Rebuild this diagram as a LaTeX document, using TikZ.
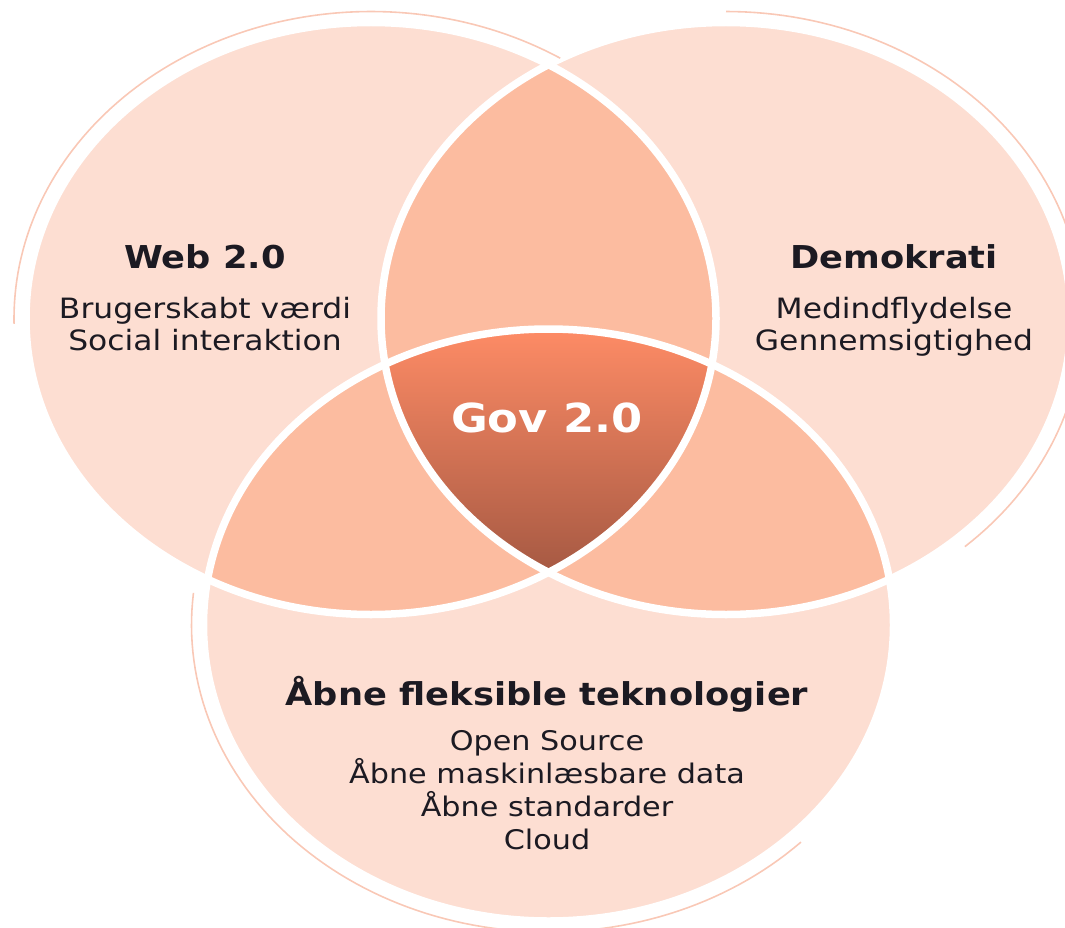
\documentclass[tikz,border=0pt]{standalone}
\usepackage{fontspec}
\newfontfamily\vf[FakeStretch=1.12]{DejaVu Sans}
\definecolor{light}{RGB}{253,222,210}
\definecolor{mid}{RGB}{252,188,160}
\definecolor{govtop}{RGB}{255,140,102}
\definecolor{govbot}{RGB}{164,88,66}
\definecolor{thinarc}{RGB}{249,200,182}
\definecolor{ink}{RGB}{28,26,34}
\tikzset{
  title/.style={anchor=base, text=ink, font=\vf\bfseries\fontsize{31.5}{36}\selectfont},
  sub/.style={anchor=base, text=ink, font=\vf\fontsize{28}{33}\selectfont},
  subb/.style={anchor=base, text=ink, font=\vf\fontsize{27}{32}\selectfont},
  govtext/.style={anchor=base, text=white, font=\vf\bfseries\fontsize{40}{46}\selectfont},
  sep/.style={white, line width=7.5pt},
  outer/.style={thinarc, line width=1.6pt}
}
\begin{document}
\begin{tikzpicture}[x=1pt,y=-1pt]
\useasboundingbox (0,0) rectangle (1065,928);
\coordinate (cL) at (371,318.5);
\coordinate (cR) at (726,318.5);
\coordinate (cB) at (548.5,625);
% base fills
\fill[light] (cL) ellipse [x radius=345pt, y radius=296pt];
\fill[light] (cR) ellipse [x radius=345pt, y radius=296pt];
\fill[light] (cB) ellipse [x radius=345pt, y radius=296pt];
% pairwise overlaps
\begin{scope}
  \clip (cL) ellipse [x radius=345pt, y radius=296pt];
  \fill[mid] (cR) ellipse [x radius=345pt, y radius=296pt];
  \fill[mid] (cB) ellipse [x radius=345pt, y radius=296pt];
\end{scope}
\begin{scope}
  \clip (cR) ellipse [x radius=345pt, y radius=296pt];
  \fill[mid] (cB) ellipse [x radius=345pt, y radius=296pt];
\end{scope}
% triple overlap
\begin{scope}
  \clip (cL) ellipse [x radius=345pt, y radius=296pt];
  \clip (cR) ellipse [x radius=345pt, y radius=296pt];
  \clip (cB) ellipse [x radius=345pt, y radius=296pt];
  \shade[top color=govtop, bottom color=govbot] (370,326) rectangle (730,578);
\end{scope}
% white separators
\draw[sep] (cL) ellipse [x radius=345pt, y radius=296pt];
\draw[sep] (cR) ellipse [x radius=345pt, y radius=296pt];
\draw[sep] (cB) ellipse [x radius=345pt, y radius=296pt];
% thin outer arcs
\draw[outer] plot[domain=58:181, samples=90] ({371+357*cos(\x)}, {318.5-307*sin(\x)});
\draw[outer] plot[domain=-48:90, samples=90] ({726+357*cos(\x)}, {318.5-307*sin(\x)});
\draw[outer] plot[domain=174:315, samples=90] ({548.5+357*cos(\x)}, {625-307*sin(\x)});
% texts
\node[title] (web) at (205,268) {Web 2.0};
\node[sub] (webA) at (205,318) {Brugerskabt værdi};
\node[sub] (webB) at (205,350) {Social interaktion};
\node[title] (dem) at (894,268) {Demokrati};
\node[sub] (demA) at (894,318) {Medindflydelse};
\node[sub] (demB) at (894,350) {Gennemsigtighed};
\node[govtext] (gov) at (547,432) {Gov 2.0};
\node[title] (tech) at (547,705) {Åbne fleksible teknologier};
\node[subb] (techA) at (547,750) {Open Source};
\node[subb] (techB) at (547,783) {Åbne maskinlæsbare data};
\node[subb] (techC) at (547,816) {Åbne standarder};
\node[subb] (techD) at (547,849) {Cloud};
\end{tikzpicture}
\end{document}
